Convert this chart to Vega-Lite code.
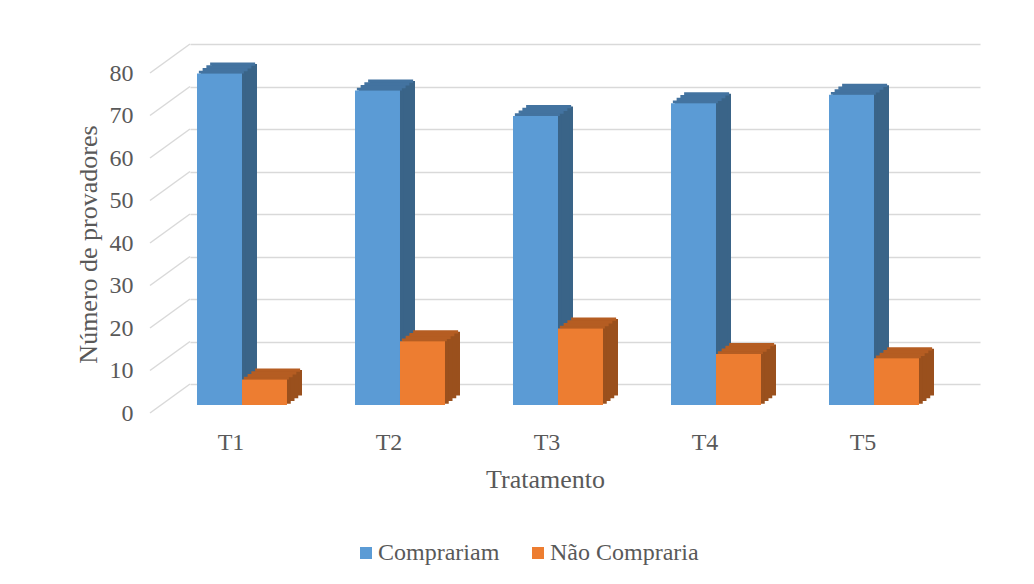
{
  "$schema": "https://vega.github.io/schema/vega-lite/v6.json",
  "autosize": {"type": "none"},
  "width": 790,
  "height": 340,
  "padding": {"left": 190, "top": 44, "right": 54, "bottom": 200},
  "background": "white",
  "config": {
    "font": "Liberation Serif",
    "view": {"stroke": null}
  },
  "layer": [
    {
      "data": {"values": [{"v": 0}, {"v": 10}, {"v": 20}, {"v": 30}, {"v": 40}, {"v": 50}, {"v": 60}, {"v": 70}, {"v": 80}]},
      "mark": {"type": "rule", "color": "#D9D9D9", "strokeWidth": 1.5, "xOffset": -40, "yOffset": 29, "x2Offset": 0, "y2Offset": 0},
      "encoding": {
        "x": {"value": 0},
        "x2": {"value": 0},
        "y": {"field": "v", "type": "quantitative", "scale": {"domain": [0, 80], "nice": false, "zero": true}},
        "y2": {"field": "v"}
      }
    },
    {
      "data": {
        "values": [
          {"trat": "T1", "serie": "Comprariam", "valor": 78},
          {"trat": "T1", "serie": "Não Compraria", "valor": 6},
          {"trat": "T2", "serie": "Comprariam", "valor": 74},
          {"trat": "T2", "serie": "Não Compraria", "valor": 15},
          {"trat": "T3", "serie": "Comprariam", "valor": 68},
          {"trat": "T3", "serie": "Não Compraria", "valor": 18},
          {"trat": "T4", "serie": "Comprariam", "valor": 71},
          {"trat": "T4", "serie": "Não Compraria", "valor": 12},
          {"trat": "T5", "serie": "Comprariam", "valor": 73},
          {"trat": "T5", "serie": "Não Compraria", "valor": 11}
        ]
      },
      "encoding": {
        "x": {
          "field": "trat", "type": "nominal",
          "scale": {"domain": ["T1", "T2", "T3", "T4", "T5"], "paddingInner": 0, "paddingOuter": 0, "round": false},
          "axis": {
            "title": "Tratamento", "titleFontSize": 26, "titleFontWeight": "normal", "titleColor": "#595959",
            "titleX": 355, "titleY": 103, "titleBaseline": "alphabetic", "titleAnchor": null, "titleAlign": "center",
            "labelFontSize": 24, "labelColor": "#595959", "labelAngle": 0, "labelOffset": -38,
            "labelPadding": 65, "labelBaseline": "alphabetic",
            "ticks": false, "tickSize": 0, "domain": false, "grid": false
          }
        },
        "y": {
          "field": "valor", "type": "quantitative",
          "scale": {"domain": [0, 80], "nice": false, "zero": true},
          "axis": {
            "title": "Número de provadores", "titleFontSize": 26, "titleFontWeight": "normal", "titleColor": "#595959",
            "titleX": -94, "titleY": 200, "titleBaseline": "alphabetic", "titleAngle": 270, "titleAlign": "center", "titleAnchor": null,
            "values": [0, 10, 20, 30, 40, 50, 60, 70, 80],
            "labelFontSize": 24, "labelColor": "#595959", "labelPadding": 57, "labelOffset": 29,
            "ticks": false, "tickSize": 0, "domain": false,
            "grid": true, "gridColor": "#D9D9D9", "gridWidth": 1.5
          }
        }
      },
      "resolve": {"scale": {"xOffset": "independent"}},
      "layer": [
        {
          "mark": {"type": "bar", "yOffset": 11.375, "y2Offset": 11.375},
          "encoding": {
            "xOffset": {"field": "serie", "type": "nominal", "scale": {"domain": ["Comprariam", "Não Compraria"], "round": false, "paddingInner": 0, "paddingOuter": 0.7556, "align": 0.32353}},
            "y2": {"datum": 0},
            "color": {"condition": {"test": "datum.serie === 'Comprariam'", "value": "#3A6488"}, "value": "#9A501D"}
          }
        },
        {
          "mark": {"type": "bar", "yOffset": 14.125, "y2Offset": 14.125},
          "encoding": {
            "xOffset": {"field": "serie", "type": "nominal", "scale": {"domain": ["Comprariam", "Não Compraria"], "round": false, "paddingInner": 0, "paddingOuter": 0.7556, "align": 0.26838}},
            "y2": {"datum": 0},
            "color": {"condition": {"test": "datum.serie === 'Comprariam'", "value": "#3A6488"}, "value": "#9A501D"}
          }
        },
        {
          "mark": {"type": "bar", "yOffset": 16.875, "y2Offset": 16.875},
          "encoding": {
            "xOffset": {"field": "serie", "type": "nominal", "scale": {"domain": ["Comprariam", "Não Compraria"], "round": false, "paddingInner": 0, "paddingOuter": 0.7556, "align": 0.21324}},
            "y2": {"datum": 0},
            "color": {"condition": {"test": "datum.serie === 'Comprariam'", "value": "#3A6488"}, "value": "#9A501D"}
          }
        },
        {
          "mark": {"type": "bar", "yOffset": 19.625, "y2Offset": 19.625},
          "encoding": {
            "xOffset": {"field": "serie", "type": "nominal", "scale": {"domain": ["Comprariam", "Não Compraria"], "round": false, "paddingInner": 0, "paddingOuter": 0.7556, "align": 0.15809}},
            "y2": {"datum": 0},
            "color": {"condition": {"test": "datum.serie === 'Comprariam'", "value": "#3A6488"}, "value": "#9A501D"}
          }
        },
        {
          "mark": {"type": "bar", "yOffset": 18.25, "y2Offset": 21},
          "encoding": {
            "xOffset": {"field": "serie", "type": "nominal", "scale": {"domain": ["Comprariam", "Não Compraria"], "round": false, "paddingInner": 0, "paddingOuter": 0.7556, "align": 0.1305}},
            "y2": {"field": "valor"},
            "color": {"condition": {"test": "datum.serie === 'Comprariam'", "value": "#4373A0"}, "value": "#B55D22"}
          }
        },
        {
          "mark": {"type": "bar", "yOffset": 15.5, "y2Offset": 18.75},
          "encoding": {
            "xOffset": {"field": "serie", "type": "nominal", "scale": {"domain": ["Comprariam", "Não Compraria"], "round": false, "paddingInner": 0, "paddingOuter": 0.7556, "align": 0.1857}},
            "y2": {"field": "valor"},
            "color": {"condition": {"test": "datum.serie === 'Comprariam'", "value": "#4373A0"}, "value": "#B55D22"}
          }
        },
        {
          "mark": {"type": "bar", "yOffset": 12.75, "y2Offset": 16},
          "encoding": {
            "xOffset": {"field": "serie", "type": "nominal", "scale": {"domain": ["Comprariam", "Não Compraria"], "round": false, "paddingInner": 0, "paddingOuter": 0.7556, "align": 0.2408}},
            "y2": {"field": "valor"},
            "color": {"condition": {"test": "datum.serie === 'Comprariam'", "value": "#4373A0"}, "value": "#B55D22"}
          }
        },
        {
          "mark": {"type": "bar", "yOffset": 10, "y2Offset": 13.25},
          "encoding": {
            "xOffset": {"field": "serie", "type": "nominal", "scale": {"domain": ["Comprariam", "Não Compraria"], "round": false, "paddingInner": 0, "paddingOuter": 0.7556, "align": 0.2960}},
            "y2": {"field": "valor"},
            "color": {"condition": {"test": "datum.serie === 'Comprariam'", "value": "#4373A0"}, "value": "#B55D22"}
          }
        },
        {
          "mark": {"type": "bar", "yOffset": 21, "y2Offset": 21},
          "encoding": {
            "xOffset": {"field": "serie", "type": "nominal", "scale": {"domain": ["Comprariam", "Não Compraria"], "round": false, "paddingInner": 0, "paddingOuter": 0.7556, "align": 0.1029}},
            "y2": {"datum": 0},
            "color": {
              "field": "serie", "type": "nominal",
              "scale": {"domain": ["Comprariam", "Não Compraria"], "range": ["#5B9BD5", "#ED7D31"]},
              "legend": {
                "title": null, "orient": "none", "legendX": 164, "legendY": 497,
                "direction": "horizontal", "symbolType": "square", "symbolSize": 144, "symbolStrokeWidth": 0,
                "labelFontSize": 24, "labelColor": "#595959", "labelOffset": 0, "columnPadding": 26, "padding": 0
              }
            }
          }
        }
      ]
    }
  ]
}
